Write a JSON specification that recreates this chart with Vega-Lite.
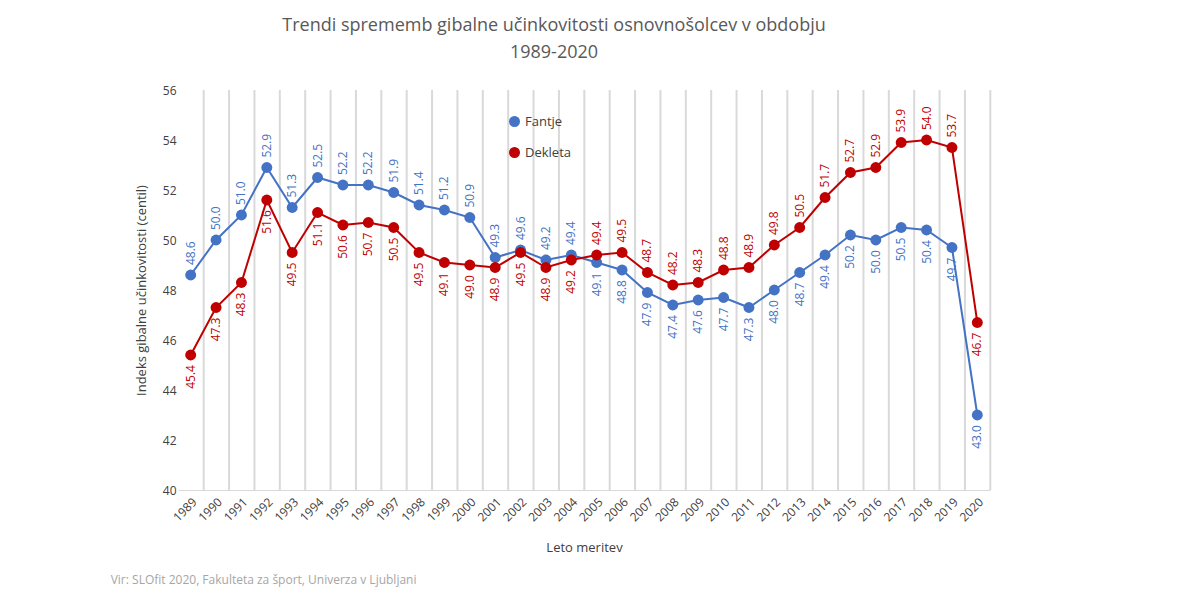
{
"$schema":"https://vega.github.io/schema/vega-lite/v6.json",
"width":812,"height":400,
"autosize":"none",
"padding":{"left":178,"top":90,"right":210,"bottom":110},
"background":"white",
"config":{"font":"Open Sans","view":{"stroke":null}},
"title":{"text":["Trendi sprememb gibalne učinkovitosti osnovnošolcev v obdobju","1989-2020"],"fontSize":18,"fontWeight":"normal","color":"#595959","anchor":"middle","dx":-30,"offset":22,"lineHeight":27},
"data":{"values":[
{"leto":"1989","s":"Fantje","v":48.6},{"leto":"1990","s":"Fantje","v":50.0},{"leto":"1991","s":"Fantje","v":51.0},{"leto":"1992","s":"Fantje","v":52.9},{"leto":"1993","s":"Fantje","v":51.3},{"leto":"1994","s":"Fantje","v":52.5},{"leto":"1995","s":"Fantje","v":52.2},{"leto":"1996","s":"Fantje","v":52.2},{"leto":"1997","s":"Fantje","v":51.9},{"leto":"1998","s":"Fantje","v":51.4},{"leto":"1999","s":"Fantje","v":51.2},{"leto":"2000","s":"Fantje","v":50.9},{"leto":"2001","s":"Fantje","v":49.3},{"leto":"2002","s":"Fantje","v":49.6},{"leto":"2003","s":"Fantje","v":49.2},{"leto":"2004","s":"Fantje","v":49.4},{"leto":"2005","s":"Fantje","v":49.1},{"leto":"2006","s":"Fantje","v":48.8},{"leto":"2007","s":"Fantje","v":47.9},{"leto":"2008","s":"Fantje","v":47.4},{"leto":"2009","s":"Fantje","v":47.6},{"leto":"2010","s":"Fantje","v":47.7},{"leto":"2011","s":"Fantje","v":47.3},{"leto":"2012","s":"Fantje","v":48.0},{"leto":"2013","s":"Fantje","v":48.7},{"leto":"2014","s":"Fantje","v":49.4},{"leto":"2015","s":"Fantje","v":50.2},{"leto":"2016","s":"Fantje","v":50.0},{"leto":"2017","s":"Fantje","v":50.5},{"leto":"2018","s":"Fantje","v":50.4},{"leto":"2019","s":"Fantje","v":49.7},{"leto":"2020","s":"Fantje","v":43.0},
{"leto":"1989","s":"Dekleta","v":45.4},{"leto":"1990","s":"Dekleta","v":47.3},{"leto":"1991","s":"Dekleta","v":48.3},{"leto":"1992","s":"Dekleta","v":51.6},{"leto":"1993","s":"Dekleta","v":49.5},{"leto":"1994","s":"Dekleta","v":51.1},{"leto":"1995","s":"Dekleta","v":50.6},{"leto":"1996","s":"Dekleta","v":50.7},{"leto":"1997","s":"Dekleta","v":50.5},{"leto":"1998","s":"Dekleta","v":49.5},{"leto":"1999","s":"Dekleta","v":49.1},{"leto":"2000","s":"Dekleta","v":49.0},{"leto":"2001","s":"Dekleta","v":48.9},{"leto":"2002","s":"Dekleta","v":49.5},{"leto":"2003","s":"Dekleta","v":48.9},{"leto":"2004","s":"Dekleta","v":49.2},{"leto":"2005","s":"Dekleta","v":49.4},{"leto":"2006","s":"Dekleta","v":49.5},{"leto":"2007","s":"Dekleta","v":48.7},{"leto":"2008","s":"Dekleta","v":48.2},{"leto":"2009","s":"Dekleta","v":48.3},{"leto":"2010","s":"Dekleta","v":48.8},{"leto":"2011","s":"Dekleta","v":48.9},{"leto":"2012","s":"Dekleta","v":49.8},{"leto":"2013","s":"Dekleta","v":50.5},{"leto":"2014","s":"Dekleta","v":51.7},{"leto":"2015","s":"Dekleta","v":52.7},{"leto":"2016","s":"Dekleta","v":52.9},{"leto":"2017","s":"Dekleta","v":53.9},{"leto":"2018","s":"Dekleta","v":54.0},{"leto":"2019","s":"Dekleta","v":53.7},{"leto":"2020","s":"Dekleta","v":46.7}
]},
"encoding":{
"x":{"field":"leto","type":"ordinal","scale":{"type":"point","padding":0.5},"axis":{"title":"Leto meritev","titleFontWeight":"normal","titleFontSize":13,"titleColor":"#404040","labelAngle":-45,"labelFontSize":12,"labelColor":"#404040","labelPadding":6,"grid":false,"ticks":false,"domainColor":"#d9d9d9","titlePadding":18}},
"y":{"field":"v","type":"quantitative","scale":{"domain":[40,56]},"axis":{"title":"Indeks gibalne učinkovitosti (centil)","titleFontWeight":"normal","titleFontSize":13,"titleColor":"#404040","labelFontSize":12,"labelColor":"#404040","grid":false,"ticks":false,"domain":false,"tickCount":8,"titlePadding":14}},
"color":{"field":"s","type":"nominal","scale":{"domain":["Fantje","Dekleta"],"range":["#4472C4","#C00000"]},"legend":{"title":null,"orient":"none","legendX":330,"legendY":25,"labelFontSize":13,"labelColor":"#404040","symbolType":"circle","symbolSize":90,"rowPadding":14}}
},
"layer":[
{"mark":{"type":"rule","color":"#d9d9d9","strokeWidth":2},"data":{"values":[{"g":"1989"},{"g":"1990"},{"g":"1991"},{"g":"1992"},{"g":"1993"},{"g":"1994"},{"g":"1995"},{"g":"1996"},{"g":"1997"},{"g":"1998"},{"g":"1999"},{"g":"2000"},{"g":"2001"},{"g":"2002"},{"g":"2003"},{"g":"2004"},{"g":"2005"},{"g":"2006"},{"g":"2007"},{"g":"2008"},{"g":"2009"},{"g":"2010"},{"g":"2011"},{"g":"2012"},{"g":"2013"},{"g":"2014"},{"g":"2015"},{"g":"2016"},{"g":"2017"},{"g":"2018"},{"g":"2019"},{"g":"2020"}]},
 "encoding":{"x":{"field":"g","type":"ordinal","bandPosition":0.5},"xOffset":{"value":13},"y":{"value":0},"y2":{"value":400},"color":{"value":"#d9d9d9"}}},
{"mark":{"type":"line","strokeWidth":2,"point":{"filled":true,"size":120}}},
{"transform":[{"filter":"(datum.s=='Fantje' && datum.leto<'2005') || (datum.s=='Dekleta' && datum.leto>='2005' && datum.leto<'2020')"}],
 "mark":{"type":"text","angle":270,"align":"left","baseline":"middle","dx":10,"fontSize":12},
 "encoding":{"text":{"field":"v","format":".1f"}}},
{"transform":[{"filter":"!((datum.s=='Fantje' && datum.leto<'2005') || (datum.s=='Dekleta' && datum.leto>='2005' && datum.leto<'2020'))"}],
 "mark":{"type":"text","angle":270,"align":"right","baseline":"middle","dx":-10,"fontSize":12},
 "encoding":{"text":{"field":"v","format":".1f"}}},
{"data":{"values":[{"t":"Vir: SLOfit 2020, Fakulteta za šport, Univerza v Ljubljani","leto":"1989","v":36.4}]},
 "mark":{"type":"text","align":"left","fontSize":12,"color":"#a6a6a6","dx":-80},
 "encoding":{"text":{"field":"t"},"color":{"value":"#a6a6a6"}}}
]
}
